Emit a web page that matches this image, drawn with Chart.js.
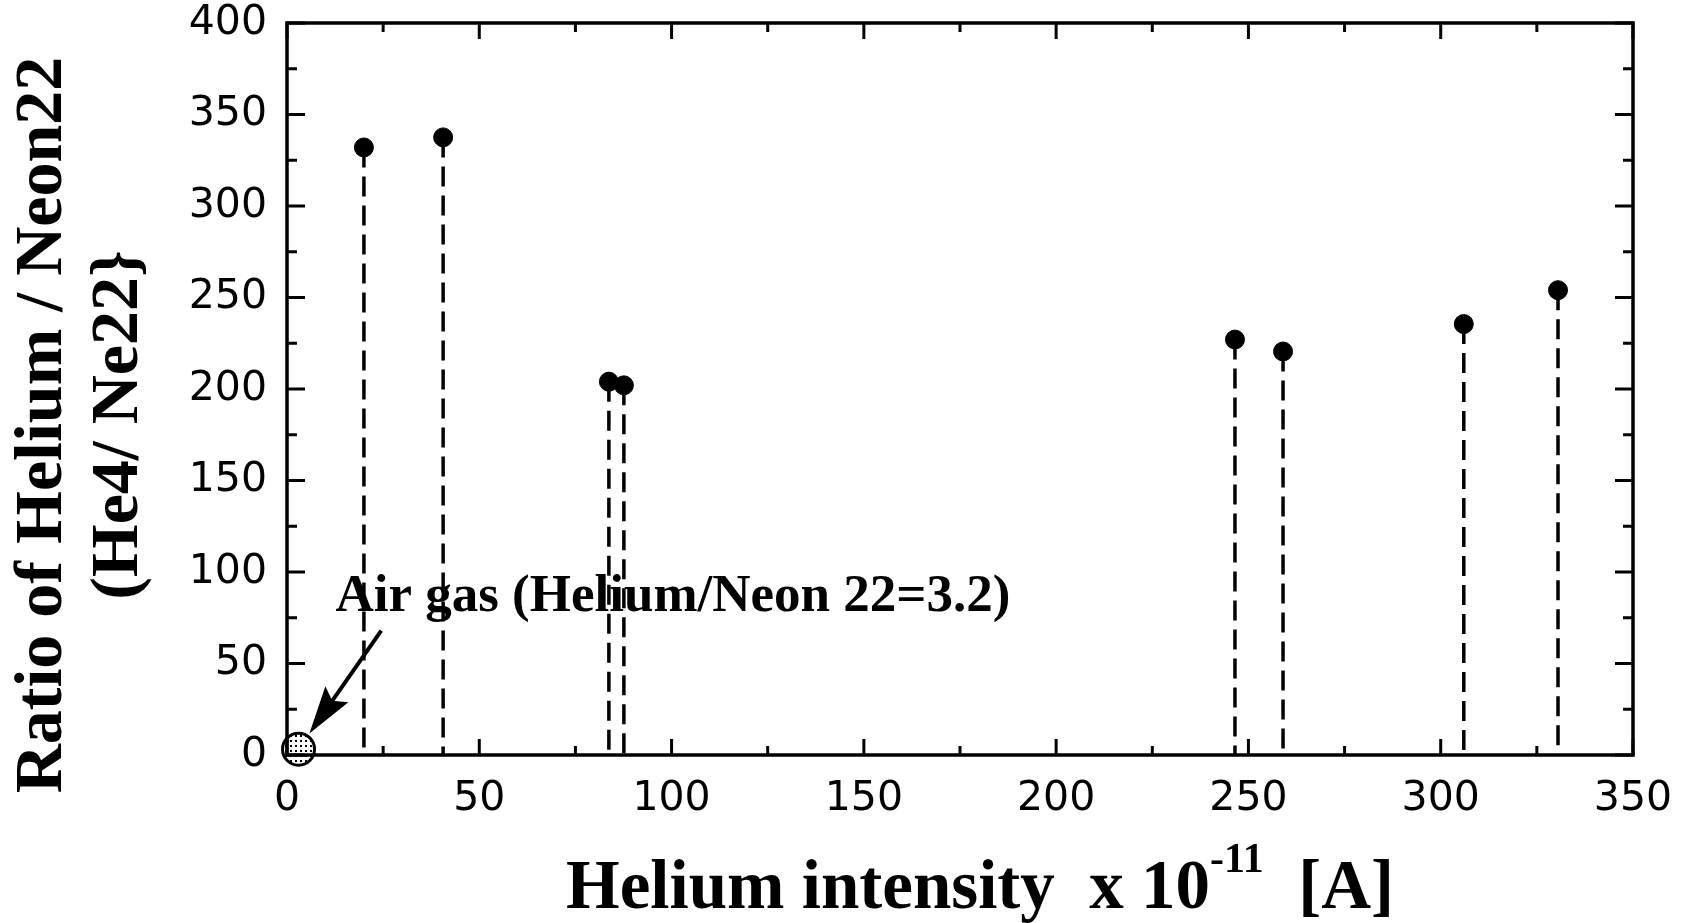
<!DOCTYPE html>
<html>
<head>
<meta charset="utf-8">
<script src="https://cdn.jsdelivr.net/npm/chart.js@4.4.0/dist/chart.umd.min.js"></script>
<style>
  html, body { margin: 0; padding: 0; background: #fff; }
  #wrap { width: 1695px; height: 923px; }
</style>
</head>
<body>
<div id="wrap"><canvas id="heChart" width="1695" height="923"></canvas></div>
<script>
// Helium intensity (x 10^-11 A) vs He4/Ne22 ratio
let intensity = [20, 40.6, 83.7, 87.6, 246.5, 259, 306, 330.5];
let ratio = [332, 337.5, 204, 202, 227, 220.5, 235.5, 254];

// air reference point
let airIntensity = [3];
let airRatio = [3.2];

let xTickValues = [0, 50, 100, 150, 200, 250, 300, 350];
let yTickValues = [0, 50, 100, 150, 200, 250, 300, 350, 400];

let airLabel = 'Air gas (Helium/Neon 22=3.2)';
let yTitle = ['Ratio of Helium / Neon22', '(He4/ Ne22}'];

// dotted fill for the air marker
function dotPattern() {
    var c = document.createElement('canvas');
    c.width = 5; c.height = 5;
    var g = c.getContext('2d');
    g.fillStyle = '#fff';
    g.fillRect(0, 0, 5, 5);
    g.fillStyle = '#000';
    g.fillRect(0, 0, 2, 2);
    return g.createPattern(c, 'repeat');
}

// dashed drop lines from each point down to zero
const dropLines = {
    id: 'dropLines',
    beforeDatasetsDraw(chart) {
        var ctx = chart.ctx;
        var xs = chart.scales.x, ys = chart.scales.y;
        ctx.save();
        ctx.strokeStyle = '#000';
        ctx.lineWidth = 3.5;
        ctx.setLineDash([20, 9]);
        for (var i = 0; i < intensity.length; i++) {
            var px = xs.getPixelForValue(intensity[i]);
            ctx.beginPath();
            ctx.moveTo(px, ys.getPixelForValue(ratio[i]));
            ctx.lineTo(px, ys.getPixelForValue(0));
            ctx.stroke();
        }
        ctx.restore();
    }
};

// frame, inward ticks, titles and the annotation
const frame = {
    id: 'frame',
    afterDraw(chart) {
        var ctx = chart.ctx;
        var a = chart.chartArea;
        var xs = chart.scales.x, ys = chart.scales.y;
        ctx.save();
        ctx.strokeStyle = '#000';
        ctx.lineWidth = 3.5;
        ctx.strokeRect(a.left, a.top, a.right - a.left, a.bottom - a.top);

        ctx.lineWidth = 3;
        ctx.beginPath();
        for (var v = 0; v <= 350; v += 25) {
            var px = xs.getPixelForValue(v);
            var len = v % 50 === 0 ? 16 : 9;
            ctx.moveTo(px, a.bottom); ctx.lineTo(px, a.bottom - len);
            ctx.moveTo(px, a.top); ctx.lineTo(px, a.top + len);
        }
        for (var w = 0; w <= 400; w += 25) {
            var py = ys.getPixelForValue(w);
            var l2 = w % 50 === 0 ? 18 : 10;
            ctx.moveTo(a.left, py); ctx.lineTo(a.left + l2, py);
            ctx.moveTo(a.right, py); ctx.lineTo(a.right - l2, py);
        }
        ctx.stroke();

        // annotation arrow, from the label down to the air point
        var tx = xs.getPixelForValue(airIntensity[0]);
        var ty = ys.getPixelForValue(airRatio[0]);
        var sx = xs.getPixelForValue(24.5), sy = ys.getPixelForValue(68);
        var ang = Math.atan2(ty - sy, tx - sx);
        var ex = tx - Math.cos(ang) * 19, ey = ty - Math.sin(ang) * 19;
        var c = Math.cos(ang), s = Math.sin(ang);
        ctx.lineWidth = 4;
        ctx.beginPath();
        ctx.moveTo(sx, sy);
        ctx.lineTo(ex - c * 35, ey - s * 35);
        ctx.stroke();
        ctx.fillStyle = '#000';
        ctx.beginPath();
        ctx.moveTo(ex, ey);
        ctx.lineTo(ex - c * 48 + s * 14, ey - s * 48 - c * 14);
        ctx.lineTo(ex - c * 40, ey - s * 40);
        ctx.lineTo(ex - c * 48 - s * 14, ey - s * 48 + c * 14);
        ctx.closePath();
        ctx.fill();

        ctx.font = 'bold 53px "Liberation Serif", serif';
        ctx.textAlign = 'left';
        ctx.textBaseline = 'middle';
        ctx.fillText(airLabel, xs.getPixelForValue(12.6), ys.getPixelForValue(86));

        // y title
        ctx.save();
        ctx.font = 'bold 68px "Liberation Serif", serif';
        ctx.textAlign = 'center';
        ctx.textBaseline = 'middle';
        ctx.translate(43, 425);
        ctx.rotate(-Math.PI / 2);
        ctx.fillText(yTitle[0], 0, 0);
        ctx.fillText(yTitle[1], 0, 76);
        ctx.restore();

        // x title with superscript
        var big = 'bold 69px "Liberation Serif", serif';
        var small = 'bold 42px "Liberation Serif", serif';
        var parts = [['Helium intensity  x 10', big, 0], ['-11', small, -36], ['  [A]', big, 0]];
        var total = 0;
        parts.forEach(p => { ctx.font = p[1]; total += ctx.measureText(p[0]).width; });
        var x0 = 980 - total / 2;
        ctx.textAlign = 'left';
        ctx.textBaseline = 'alphabetic';
        parts.forEach(p => {
            ctx.font = p[1];
            ctx.fillText(p[0], x0, 908 + p[2]);
            x0 += ctx.measureText(p[0]).width;
        });
        ctx.restore();
    }
};

var ctx = document.getElementById('heChart').getContext('2d');
var heChart = new Chart(ctx, {
    type: 'scatter',
    data: {
        datasets: [{
            label: 'Samples',
            data: intensity.map((x, i) => ({ x: x, y: ratio[i] })),
            backgroundColor: '#000',
            borderColor: '#000',
            pointRadius: 9.5,
            pointHoverRadius: 9.5
        },
        {
            label: 'Air',
            data: airIntensity.map((x, i) => ({ x: x, y: airRatio[i] })),
            backgroundColor: dotPattern(),
            borderColor: '#000',
            borderWidth: 3,
            pointRadius: 16,
            pointHoverRadius: 16,
            clip: false
        }]
    },
    options: {
        responsive: false,
        devicePixelRatio: 1,
        animation: false,
        layout: { padding: { top: 23, right: 62, left: 0, bottom: 0 } },
        plugins: {
            legend: { display: false },
            tooltip: { enabled: false }
        },
        scales: {
            x: {
                type: 'linear',
                min: 0,
                max: 350,
                afterBuildTicks: s => { s.ticks = xTickValues.map(v => ({ value: v })); },
                afterFit: s => { s.height = 168; s.paddingLeft = 0; s.paddingRight = 0; },
                grid: { display: false, drawTicks: false },
                border: { display: false },
                ticks: {
                    color: '#000',
                    padding: 20,
                    maxRotation: 0,
                    font: { family: '"DejaVu Sans", sans-serif', size: 41 }
                }
            },
            y: {
                min: 0,
                max: 400,
                afterBuildTicks: s => { s.ticks = yTickValues.map(v => ({ value: v })); },
                afterFit: s => { s.width = 287; s.paddingTop = 0; s.paddingBottom = 0; },
                grid: { display: false, drawTicks: false },
                border: { display: false },
                ticks: {
                    color: '#000',
                    padding: 20,
                    font: { family: '"DejaVu Sans", sans-serif', size: 41 }
                }
            }
        }
    },
    plugins: [dropLines, frame]
});
</script>
</body>
</html>
